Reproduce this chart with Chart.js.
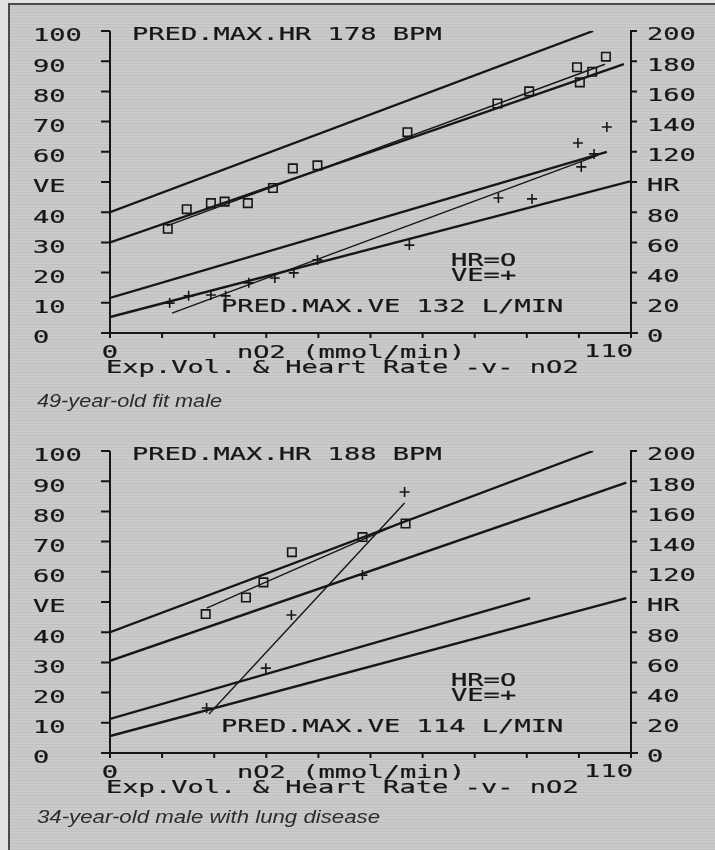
<!DOCTYPE html>
<html>
<head>
<meta charset="utf-8">
<script src="https://cdn.jsdelivr.net/npm/chart.js"></script>
<style>
  body { margin:0; }
  #page { position:relative; width:715px; height:850px; background:#e2e2e2; overflow:hidden; }
  #sheet { position:absolute; left:8px; top:3px; width:707px; height:847px;
           border-top:2px solid #4a4a4a; border-left:2px solid #4a4a4a;
           background:repeating-linear-gradient(0deg, #cacaca 0px, #cacaca 2px, #c1c1c1 2px, #c1c1c1 3px); }
  canvas { position:absolute; left:0; }
</style>
</head>
<body>
<div id="page">
  <div id="sheet"></div>
  <canvas id="chartTop" width="715" height="420" style="top:0"></canvas>
  <canvas id="chartBottom" width="715" height="430" style="top:420px"></canvas>
</div>
<script>
// axes
var xTicks = [0, 11, 22, 33, 44, 55, 66, 77, 88, 99, 110];
var xTickLabels = {0: '0', 110: '110'};
var veTicks = [0, 10, 20, 30, 40, 50, 60, 70, 80, 90, 100];
var veTickLabels = ['0', '10', '20', '30', '40', 'VE', '60', '70', '80', '90', '100'];
var hrTicks = [0, 20, 40, 60, 80, 100, 120, 140, 160, 180, 200];
var hrTickLabels = ['0', '20', '40', '60', '80', 'HR', '120', '140', '160', '180', '200'];

// 49-year-old fit male
var fitHrX = [12.2, 16.2, 21.3, 24.2, 29.1, 34.4, 38.6, 43.8, 62.8, 81.8, 88.5, 98.6, 99.2, 101.8, 104.7];
var fitHr  = [69, 82, 86, 87, 86, 96, 109, 111, 133, 152, 160, 176, 166, 173, 183];
var fitVeX = [12.6, 16.6, 21.3, 24.4, 29.3, 34.8, 38.8, 43.8, 63.2, 82.0, 89.1, 98.8, 99.5, 102.2, 104.9];
var fitVe  = [9.9, 12.3, 12.6, 12.3, 16.6, 18.2, 19.9, 24.2, 29.1, 44.7, 44.4, 62.9, 55.0, 59.3, 68.2];
// lines: [x0, y0, x1, y1]
var fitHrLines = [[0, 80, 102, 200], [0, 60, 108.5, 178]];
var fitHrTrend = [12, 71, 104.5, 178];
var fitVeLines = [[0, 11.6, 104.9, 60], [0, 5.3, 110, 50.3]];
var fitVeTrend = [13.1, 6.6, 103, 58.8];

// 34-year-old male with lung disease
var lungHrX = [20.2, 28.7, 32.4, 38.4, 53.3, 62.4];
var lungHr  = [92, 103, 113, 133, 143, 152];
var lungVeX = [20.4, 32.9, 38.3, 53.3, 62.2];
var lungVe  = [14.9, 28.1, 45.7, 58.9, 86.4];
var lungHrLines = [[0, 80, 102, 200], [0, 61, 109, 179]];
var lungHrTrend = [20.4, 96, 62.6, 154];
var lungVeLines = [[0, 11.3, 88.7, 51.3], [0, 5.6, 109, 51.3]];
var lungVeTrend = [20.9, 12.9, 62.2, 82.8];

var INK = '#161616';
var CHAR_W = 16.3;

function monoText(ctx, str, x, y, align) {
  ctx.save();
  ctx.font = '17px "DejaVu Sans Mono"';
  ctx.fillStyle = INK;
  ctx.strokeStyle = INK;
  ctx.lineWidth = 0.2;
  ctx.textBaseline = 'middle';
  ctx.textAlign = align || 'left';
  var sx = CHAR_W / ctx.measureText('0').width;
  ctx.translate(x, y);
  ctx.scale(sx, 1);
  ctx.fillText(str, 0, 0);
  ctx.strokeText(str, 0, 0);
  ctx.restore();
}

function captionText(ctx, str, x, y, w) {
  ctx.save();
  ctx.font = 'italic 18px "Liberation Sans"';
  ctx.fillStyle = '#2c2c2c';
  ctx.textBaseline = 'middle';
  var sx = w / ctx.measureText(str).width;
  ctx.translate(x, y);
  ctx.scale(sx, 1);
  ctx.fillText(str, 0, 0);
  ctx.restore();
}

// plotter style axes and texts
var plotterAxes = {
  id: 'plotterAxes',
  afterDraw: function(chart, args, o) {
    var ctx = chart.ctx;
    var sx = chart.scales.x, sy = chart.scales.y, sy1 = chart.scales.y1;
    var a = chart.chartArea;
    ctx.save();
    ctx.strokeStyle = INK;
    ctx.lineWidth = 2;
    ctx.beginPath();
    ctx.moveTo(a.left, a.top); ctx.lineTo(a.left, a.bottom + 4);
    ctx.moveTo(a.left - 4, a.bottom); ctx.lineTo(a.right + 7, a.bottom);
    ctx.moveTo(a.right, sy1.getPixelForValue(200) - 1); ctx.lineTo(a.right, a.bottom + 4);
    veTicks.forEach(function(v) {
      var py = sy.getPixelForValue(v);
      ctx.moveTo(a.left - 9, py); ctx.lineTo(a.left, py);
    });
    hrTicks.forEach(function(v) {
      var py = sy1.getPixelForValue(v);
      ctx.moveTo(a.right, py); ctx.lineTo(a.right + 6, py);
    });
    xTicks.forEach(function(v) {
      var px = sx.getPixelForValue(v);
      ctx.moveTo(px, a.bottom); ctx.lineTo(px, a.bottom + 5);
    });
    ctx.stroke();
    ctx.restore();

    veTicks.forEach(function(v, i) {
      monoText(ctx, veTickLabels[i], 33, sy.getPixelForValue(v) + 6);
    });
    hrTicks.forEach(function(v, i) {
      monoText(ctx, hrTickLabels[i], a.right + 16, sy1.getPixelForValue(v) + 5);
    });
    monoText(ctx, xTickLabels[0], sx.getPixelForValue(0), a.bottom + 21, 'center');
    monoText(ctx, xTickLabels[110], sx.getPixelForValue(110) + 2, a.bottom + 20, 'right');
    monoText(ctx, 'nO2 (mmol/min)', 237, a.bottom + 21);
    monoText(ctx, 'Exp.Vol. & Heart Rate -v- nO2', 106, a.bottom + 36);
    monoText(ctx, o.title, 132, a.top + 5);
    monoText(ctx, o.veNote, 221, a.bottom - 25);
    monoText(ctx, 'HR=O', 451, a.bottom - 71);
    monoText(ctx, 'VE=+', 451, a.bottom - 56);
    captionText(ctx, o.caption, 37, a.bottom + o.capGap, o.capW);
  }
};

function pts(xs, ys) {
  return xs.map(function(x, i) { return {x: x, y: ys[i]}; });
}
function seg(l, axis, w) {
  return {data: [{x: l[0], y: l[1]}, {x: l[2], y: l[3]}], yAxisID: axis, showLine: true,
          pointRadius: 0, borderColor: INK, borderWidth: w};
}

function panel(id, p) {
  var datasets = [];
  p.hrLines.forEach(function(l) { datasets.push(seg(l, 'y1', 2.4)); });
  p.veLines.forEach(function(l) { datasets.push(seg(l, 'y', 2.4)); });
  datasets.push(seg(p.hrTrend, 'y1', 1.4));
  datasets.push(seg(p.veTrend, 'y', 1.4));
  datasets.push({data: pts(p.hrX, p.hr), yAxisID: 'y1', pointStyle: 'rect', pointRadius: 6,
                 borderColor: INK, backgroundColor: 'rgba(0,0,0,0)', borderWidth: 1.6});
  datasets.push({data: pts(p.veX, p.ve), yAxisID: 'y', pointStyle: 'cross', pointRadius: 5,
                 borderColor: INK, borderWidth: 1.6});
  return new Chart(document.getElementById(id).getContext('2d'), {
    type: 'scatter',
    data: {datasets: datasets},
    options: {
      responsive: false,
      animation: false,
      devicePixelRatio: 1,
      layout: {padding: {left: 110, right: 84, top: 31, bottom: p.padBottom}},
      scales: {
        x: {type: 'linear', min: 0, max: 110, display: false},
        y: {min: 0, max: 100, display: false},
        y1: {min: 0, max: 200, display: false, position: 'right'}
      },
      plugins: {
        legend: {display: false},
        tooltip: {enabled: false},
        plotterAxes: {title: p.title, veNote: p.veNote, caption: p.caption, capGap: p.capGap, capW: p.capW}
      }
    },
    plugins: [plotterAxes]
  });
}

panel('chartTop', {
  hrX: fitHrX, hr: fitHr, veX: fitVeX, ve: fitVe,
  hrLines: fitHrLines, veLines: fitVeLines, hrTrend: fitHrTrend, veTrend: fitVeTrend,
  title: 'PRED.MAX.HR 178 BPM', veNote: 'PRED.MAX.VE 132 L/MIN',
  caption: '49-year-old fit male', capGap: 69, capW: 185, padBottom: 87
});
panel('chartBottom', {
  hrX: lungHrX, hr: lungHr, veX: lungVeX, ve: lungVe,
  hrLines: lungHrLines, veLines: lungVeLines, hrTrend: lungHrTrend, veTrend: lungVeTrend,
  title: 'PRED.MAX.HR 188 BPM', veNote: 'PRED.MAX.VE 114 L/MIN',
  caption: '34-year-old male with lung disease', capGap: 65, capW: 343, padBottom: 97
});
</script>
</body>
</html>
